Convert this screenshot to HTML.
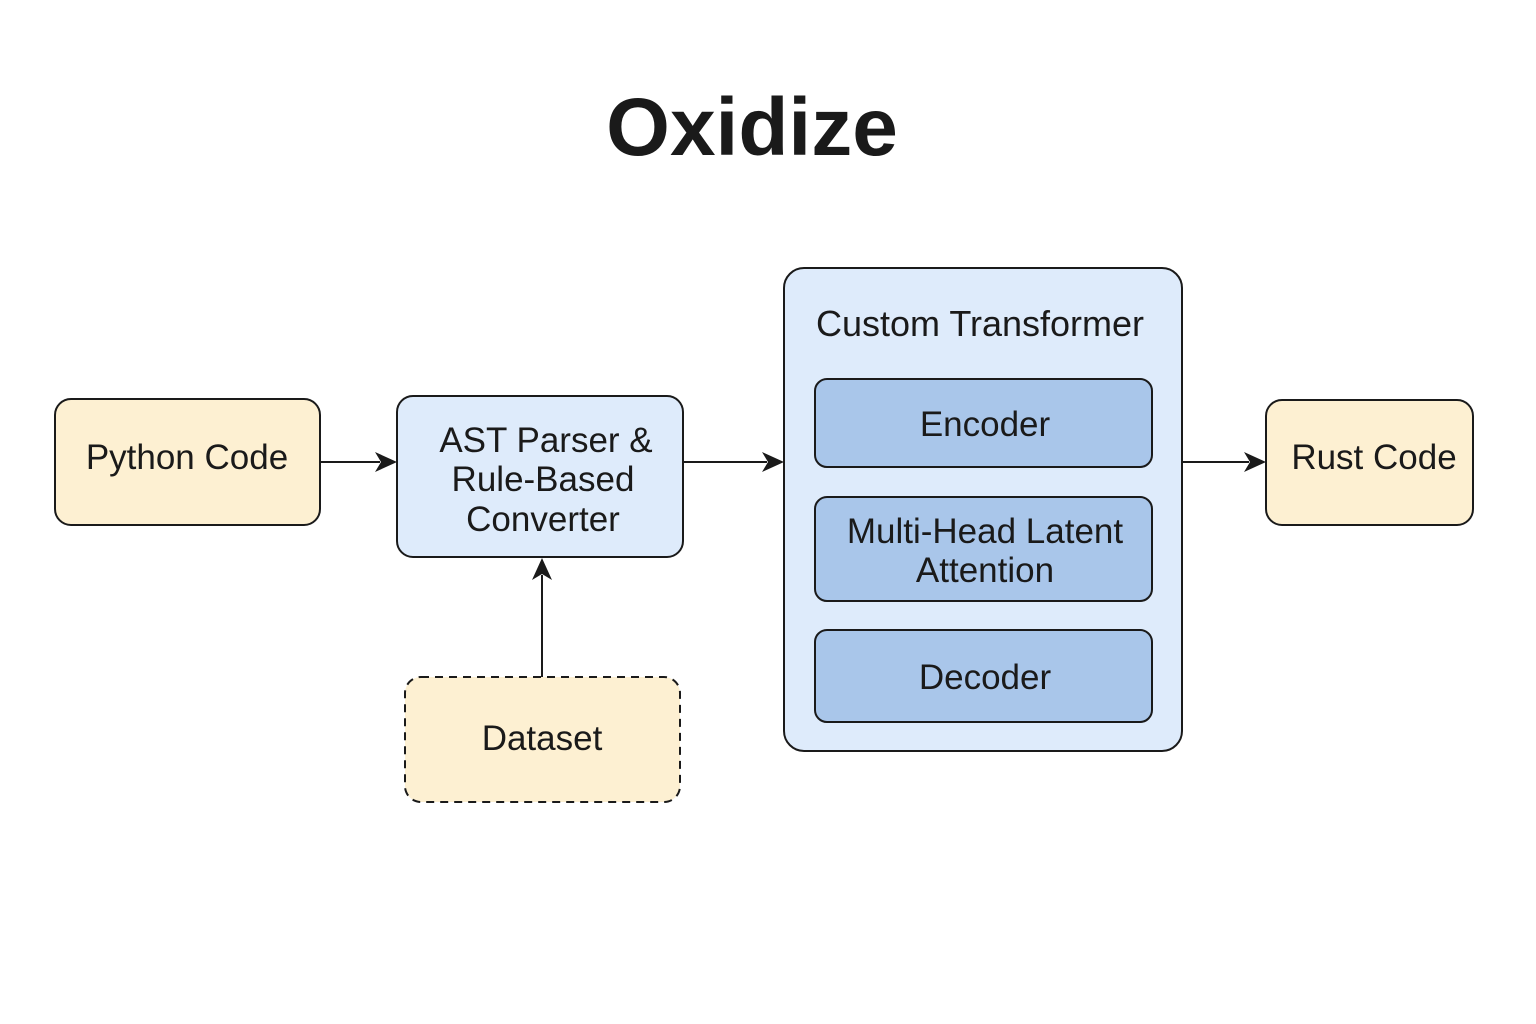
<!DOCTYPE html>
<html><head><meta charset="utf-8"><style>
html,body{margin:0;padding:0;background:#fff;}
svg{display:block;}
text{font-family:"Liberation Sans","DejaVu Sans",sans-serif;fill:#1a1a1a;}
</style></head><body>
<svg width="1536" height="1024" viewBox="0 0 1536 1024" xmlns="http://www.w3.org/2000/svg">
<g fill="#1a1a1a">
<path d="M397,462 L375,452 L381,462 L375,472 Z"/>
<path d="M784,462 L762,452 L768,462 L762,472 Z"/>
<path d="M1266,462 L1244,452 L1250,462 L1244,472 Z"/>
<path d="M542,558 L532,580 L542,574 L552,580 Z"/>
</g>
<text x="752" y="155" font-size="82" font-weight="bold" text-anchor="middle">Oxidize</text>

<rect x="55" y="399" width="265" height="126" rx="16" fill="#fdf0d2" stroke="#1a1a1a" stroke-width="2"/>
<text x="187" y="469" font-size="35" text-anchor="middle">Python Code</text>

<rect x="397" y="396" width="286" height="161" rx="16" fill="#deebfb" stroke="#1a1a1a" stroke-width="2"/>
<text x="546" y="452" font-size="35" text-anchor="middle">AST Parser &amp;</text>
<text x="543" y="491" font-size="35" text-anchor="middle">Rule-Based</text>
<text x="543" y="531" font-size="35" text-anchor="middle">Converter</text>

<rect x="405" y="677" width="275" height="125" rx="16" fill="#fdf0d2" stroke="#1a1a1a" stroke-width="2" stroke-dasharray="8,6"/>
<text x="542" y="750" font-size="35" text-anchor="middle">Dataset</text>

<rect x="784" y="268" width="398" height="483" rx="20" fill="#deebfb" stroke="#1a1a1a" stroke-width="2"/>
<text x="980" y="336" font-size="36" text-anchor="middle">Custom Transformer</text>

<rect x="815" y="379" width="337" height="88" rx="12" fill="#a9c6ea" stroke="#1a1a1a" stroke-width="2"/>
<text x="985" y="436" font-size="35" text-anchor="middle">Encoder</text>
<rect x="815" y="497" width="337" height="104" rx="12" fill="#a9c6ea" stroke="#1a1a1a" stroke-width="2"/>
<text x="985" y="543" font-size="35" text-anchor="middle">Multi-Head Latent</text>
<text x="985" y="582" font-size="35" text-anchor="middle">Attention</text>
<rect x="815" y="630" width="337" height="92" rx="12" fill="#a9c6ea" stroke="#1a1a1a" stroke-width="2"/>
<text x="985" y="689" font-size="35" text-anchor="middle">Decoder</text>

<rect x="1266" y="400" width="207" height="125" rx="16" fill="#fdf0d2" stroke="#1a1a1a" stroke-width="2"/>
<text x="1374" y="469" font-size="35" text-anchor="middle">Rust Code</text>

<g stroke="#1a1a1a" stroke-width="2" fill="none">
<line x1="320" y1="462" x2="380" y2="462"/>
<line x1="683" y1="462" x2="767" y2="462"/>
<line x1="1182" y1="462" x2="1249" y2="462"/>
<line x1="542" y1="677" x2="542" y2="575"/>
</g>
</svg>
</body></html>
